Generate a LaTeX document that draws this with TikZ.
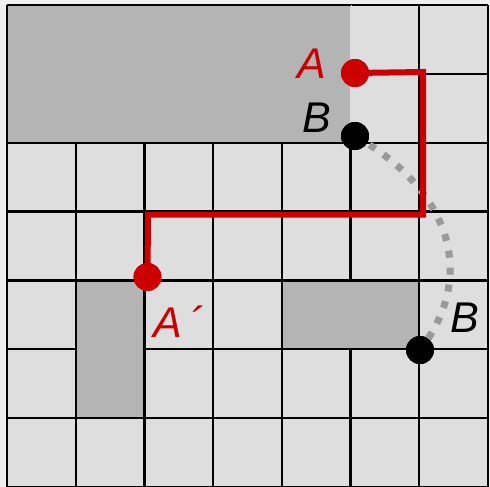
\documentclass[tikz,border=0pt]{standalone}
\usepackage{fontspec}
\setmainfont{Liberation Sans}
\definecolor{bgout}{HTML}{EFEFEF}
\definecolor{cell}{HTML}{DEDEDE}
\definecolor{dark}{HTML}{B4B4B4}
\definecolor{pathred}{HTML}{CC0000}
\definecolor{dotgray}{HTML}{999999}
\tikzset{
  gridline/.style={black, line width=2.2pt},
  redpath/.style={pathred, line width=6pt, line join=miter},
  reddot/.style={circle, fill=pathred, minimum size=28pt, inner sep=0pt},
  blackdot/.style={circle, fill=black, minimum size=28pt, inner sep=0pt},
  lbl/.style={inner sep=0pt, font=\fontsize{43}{50}\selectfont\itshape},
  trail/.style={dotgray, line width=7pt, dash pattern=on 7pt off 10pt},
}
\begin{document}
\begin{tikzpicture}[x=1pt,y=-1pt]
\useasboundingbox (0,0) rectangle (490,487);
\fill[bgout] (0,0) rectangle (490,487);
\fill[cell] (7,5) rectangle (488,487);
% grid
\foreach \i in {0,...,7} {
  \draw[gridline] ({7+68.7*\i},5) -- ({7+68.7*\i},487);
  \draw[gridline] (7,{5+68.86*\i}) -- (488,{5+68.86*\i});
}
% dark regions
\fill[dark] (8.2,6.2) rectangle (350.2,141.5);
\draw[cell, line width=1.2pt] (350.9,5) -- (350.9,141.5);
\draw[gridline] (7,5) -- (350.5,5);
\draw[gridline] (7,5) -- (7,142.7);
\fill[dark] (76.9,281.6) rectangle (143.2,417);
\fill[dark] (283,281.6) rectangle (418,348.1);
% nodes
\node[reddot] (A) at (355,73) {};
\node[blackdot] (B1) at (355,136) {};
\node[reddot] (A2) at (147.5,277) {};
\node[blackdot] (B2) at (420,350) {};
\coordinate (c1) at (423,72);
\coordinate (c2) at (423,214.5);
\coordinate (c3) at (148,214.5);
% dotted trail
\draw[trail] (B1.center) .. controls (450,190) and (478,275) .. (B2.center);
\node[blackdot] at (B1) {};
\node[blackdot] at (B2) {};
% red path
\draw[redpath] (A.center) -- (c1) -- (c2) -- (c3) -- (A2.center);
\node[reddot] at (A) {};
\node[reddot] at (A2) {};
% labels
\node[lbl, text=pathred, anchor=base] (lA) at (312,78) {A};
\node[lbl, anchor=base] (lB1) at (317,132) {B};
\node[lbl, text=pathred, anchor=base west] (lA2) at (153,337) {A\,´};
\node[lbl, anchor=base] (lB2) at (465,332) {B};
\end{tikzpicture}
\end{document}
